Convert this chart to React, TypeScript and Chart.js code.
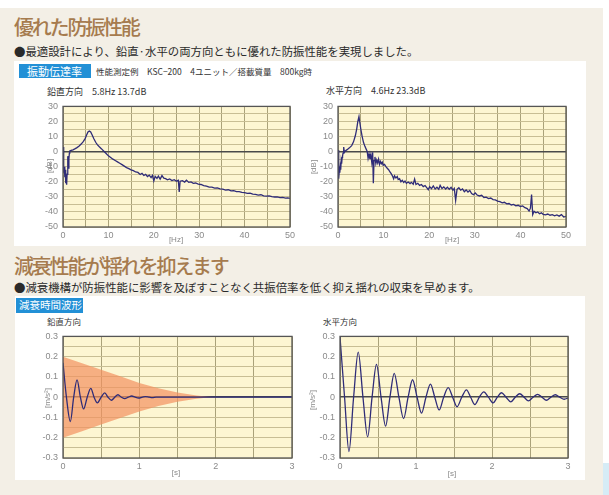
import React, { useEffect, useRef } from 'react';
import { Chart, registerables } from 'chart.js';
Chart.register(...registerables);

// ---------- data ----------
const vertFreq = [0.0,0.1,0.2,0.3,0.4,0.5,0.6,0.7,0.8,0.9,1.0,1.1,1.2,1.3,1.4,1.5,1.8,2.2,2.6,3.0,3.5,4.0,4.5,4.9,5.2,5.5,5.8,6.1,6.4,6.8,7.2,7.6,8.0,8.5,9.0,9.5,10.0,10.5,11.0,11.5,12.0,12.5,13.0,13.5,14.0,14.5,15.0,15.5,16.0,16.5,17.0,17.4,17.8,18.2,18.6,19.0,19.4,19.7,20.0,20.3,20.7,21.0,21.4,21.8,22.2,22.6,23.0,23.5,24.0,24.5,25.0,25.4,25.6,25.8,26.3,26.8,27.2,27.7,28.2,28.7,29.2,29.8,30.4,31.0,31.6,32.2,32.8,33.4,34.0,34.6,35.2,35.8,36.4,37.0,37.6,38.2,38.8,39.4,40.0,40.6,41.2,41.8,42.4,43.0,43.6,44.2,44.8,45.4,46.0,46.6,47.2,47.8,48.4,49.0,49.5,50.0];
const vertDb = [3,-8,-14,-10,-17,-12,-21,-18,-22,-15,-6,-3,-11,-5,-1,0.5,0.8,1.2,1.8,2.5,3.6,5.0,6.8,8.8,11,13,13.7,13,11.2,8.5,6.2,4.5,3.2,1.8,0.3,-1.2,-2.8,-3.9,-5,-5.9,-6.8,-7.7,-8.6,-9.6,-10.6,-11.3,-12.1,-12.6,-13.5,-13.8,-15.2,-14.4,-15.8,-15.1,-16.5,-15.6,-17.2,-15.8,-19.5,-16.4,-17.8,-16.2,-18.2,-15.9,-17.6,-17.9,-18.7,-18.1,-19.2,-18.6,-19.6,-19.0,-26.8,-19.6,-19.3,-20.2,-19.0,-20.4,-20.1,-21.0,-20.8,-21.6,-21.8,-22.5,-22.9,-23.6,-23.5,-24.2,-24.1,-24.7,-24.9,-25.5,-25.3,-26.0,-25.9,-26.5,-26.6,-27.0,-27.2,-27.7,-27.6,-28.2,-28.3,-28.9,-28.6,-29.3,-29.5,-29.4,-29.9,-30.1,-30.0,-30.5,-30.4,-30.9,-30.7,-31.0];

const horFreq = [0.0,0.1,0.2,0.3,0.4,0.5,0.6,0.7,0.8,0.9,1.0,1.1,1.25,1.4,1.6,2.0,2.5,3.0,3.4,3.8,4.1,4.35,4.6,4.8,5.0,5.3,5.6,5.9,6.2,6.4,6.6,6.8,7.0,7.2,7.4,7.6,7.75,7.9,8.1,8.3,8.5,8.7,8.9,9.1,9.3,9.5,9.7,9.9,10.2,10.5,10.8,11.1,11.4,11.7,12.0,12.2,12.4,12.7,13.0,13.2,13.5,13.8,14.1,14.4,14.7,15.0,15.4,15.8,16.1,16.5,16.8,17.1,17.5,17.9,18.3,18.7,19.1,19.5,19.8,20.1,20.5,20.9,21.3,21.7,22.1,22.4,22.8,23.2,23.6,24.0,24.4,24.8,25.2,25.5,25.8,26.1,26.5,26.9,27.3,27.7,28.1,28.5,28.9,29.3,29.7,30.1,30.5,31.0,31.5,32.0,32.5,33.0,33.5,34.0,34.5,35.0,35.5,36.0,36.5,37.0,37.5,38.0,38.5,39.0,39.5,40.0,40.5,41.0,41.5,41.9,42.2,42.45,42.7,43.0,43.4,43.8,44.2,44.6,45.0,45.5,46.0,46.5,47.0,47.5,48.0,48.5,49.0,49.5,50.0];
const horDb = [1,-10,-18,-12,-14,-10,-12,-6,-8,-4,-3,-1,3,-0.5,0.5,1.3,2.5,4.0,6.5,10.5,15,20,23.3,19,15,10,6,3.5,1.5,0.2,-4.5,-1.5,-5,-2,-7,-0.5,-21,-6,-3.5,-8,-5.5,-7.5,-5,-8.5,-6.5,-8,-7,-9,-8.5,-10,-11,-12,-13.5,-14.8,-16.5,-18,-16,-17.5,-16.5,-18.5,-18,-20,-19,-20.5,-19.5,-21,-20.2,-21.2,-20.4,-21.6,-18.2,-21.8,-21,-22.4,-21.8,-23.2,-22.5,-24,-25.2,-23.2,-24.6,-22.8,-24.8,-23.6,-24.9,-22.4,-24.5,-23.4,-24.8,-23.6,-25,-23.7,-25.6,-24.4,-32.4,-25,-24,-25.6,-24.8,-26.6,-25.4,-26.8,-25.8,-27.8,-28.6,-27.4,-28.8,-29.4,-29.0,-30.4,-30.2,-31.2,-30.8,-31.8,-32.0,-32.8,-33.2,-34.0,-33.6,-34.6,-34.4,-35.4,-35.0,-36.0,-35.6,-36.4,-36.0,-37.2,-37.8,-39.4,-37.5,-28.5,-41.8,-39.6,-40.6,-40.0,-41.2,-40.6,-41.6,-42.0,-41.4,-42.2,-41.8,-42.6,-42.0,-42.8,-41.8,-43.4,-43.0];

const vertTime = [0,0.045,0.096,0.14,0.184,0.228,0.27,0.317,0.364,0.407,0.45,0.5,0.547,0.59,0.635,0.678,0.72,0.765,0.81,0.855,0.9,0.945,0.99,1.04,1.08,1.13,1.17,1.22,3.0];
const vertAcc = [0.17,0,-0.12,0,0.085,0,-0.058,0,0.044,0,-0.028,0,0.021,0,-0.015,0,0.012,0,-0.007,0,0.006,0,-0.004,0,0.003,0,-0.002,0,0];

const envTime = [0,0.25,0.5,0.75,1.0,1.25,1.5,1.75,1.9,2.0];
const envUpper = [0.2,0.168,0.135,0.103,0.07,0.044,0.023,0.008,0.002,0];
const envLower = [-0.2,-0.168,-0.135,-0.103,-0.07,-0.044,-0.023,-0.008,-0.002,0];

const horTime = [0,0.06,0.118,0.179,0.24,0.302,0.364,0.422,0.48,0.54,0.6,0.657,0.714,0.775,0.837,0.896,0.955,1.014,1.073,1.131,1.19,1.247,1.305,1.364,1.424,1.482,1.54,1.602,1.664,1.719,1.774,1.833,1.892,1.953,2.015,2.07,2.124,2.185,2.247,2.306,2.365,2.422,2.48,2.54,2.6,2.658,2.716,2.775,2.834,2.892,2.95,3.0];
const horAcc = [0.297,0,-0.268,0,0.222,0,-0.196,0,0.162,0,-0.143,0,0.118,0,-0.106,0,0.086,0,-0.079,0,0.065,0,-0.063,0,0.047,0,-0.047,0,0.036,0,-0.036,0,0.026,0,-0.028,0,0.022,0,-0.023,0,0.017,0,-0.018,0,0.014,0,-0.015,0,0.012,0,-0.01,-0.004];

const freqLabels = [0, 10, 20, 30, 40, 50];
const dbLabels = [30, 20, 10, 0, -10, -20, -30, -40, -50];
const timeLabels = [0, 1, 2, 3];
const accLabels = [0.3, 0.2, 0.1, 0, -0.1, -0.2, -0.3];

// ---------- styles ----------
const BEIGE = '#f3efe6';
const BROWN = '#a67b4e';
const BLUE = '#2290d6';
const PLOT_BG = '#fdf6d2';
const VGRID = '#aaa27a';
const HGRID = '#c8be94';
const FRAME = '#555555';
const LINE = '#2f2c78';
const TICK = '#8a8a8a';
const JP = '"Noto Sans CJK JP", "Noto Sans", sans-serif';

const zip = (xs: number[], ys: number[]) => xs.map((x, i) => ({ x, y: ys[i] }));

const framePlugin = {
  id: 'frame',
  beforeDraw(chart: any) {
    const { ctx, chartArea: a } = chart;
    ctx.save();
    ctx.fillStyle = PLOT_BG;
    ctx.fillRect(a.left, a.top, a.right - a.left, a.bottom - a.top);
    ctx.restore();
  },
  afterDraw(chart: any) {
    const { ctx, chartArea: a } = chart;
    ctx.save();
    ctx.strokeStyle = FRAME;
    ctx.lineWidth = 1.3;
    ctx.strokeRect(a.left, a.top, a.right - a.left, a.bottom - a.top);
    ctx.restore();
  },
};

type AxisSpec = {
  xMin: number; xMax: number; xStep: number; xLabels: number[];
  yMin: number; yMax: number; yStep: number; yLabels: number[];
  yFmt: (v: number) => string;
  padTop: number; padRight: number; yWidth: number; xHeight: number;
};

const near = (v: number, list: number[]) => list.some((l) => Math.abs(l - v) < 1e-6);

function makeOptions(p: AxisSpec): any {
  const tickFont = { family: '"Liberation Sans", Arial, sans-serif', size: 9 };
  return {
    responsive: false,
    animation: false,
    layout: { padding: { left: 0, right: p.padRight, top: p.padTop, bottom: 0 } },
    plugins: { legend: { display: false }, tooltip: { enabled: false }, title: { display: false } },
    elements: { point: { radius: 0 } },
    scales: {
      x: {
        type: 'linear',
        min: p.xMin,
        max: p.xMax,
        afterFit: (s: any) => { s.height = p.xHeight; },
        ticks: {
          stepSize: p.xStep,
          autoSkip: false,
          maxRotation: 0,
          padding: 3,
          color: TICK,
          font: tickFont,
          callback: (v: number) => (near(v, p.xLabels) ? String(Math.round(v)) : ''),
        },
        grid: { color: VGRID, lineWidth: 1, drawTicks: false },
        border: { display: false },
      },
      y: {
        type: 'linear',
        min: p.yMin,
        max: p.yMax,
        afterFit: (s: any) => { s.width = p.yWidth; },
        ticks: {
          stepSize: p.yStep,
          autoSkip: false,
          padding: 5,
          color: TICK,
          font: tickFont,
          callback: (v: number) => (near(v, p.yLabels) ? p.yFmt(v) : ''),
        },
        grid: {
          drawTicks: false,
          color: (c: any) => (c.tick && Math.abs(c.tick.value) < 1e-9 ? '#4a4a4a' : HGRID),
          lineWidth: (c: any) => (c.tick && Math.abs(c.tick.value) < 1e-9 ? 1.6 : 1),
        },
        border: { display: false },
      },
    },
  };
}

function ChartCanvas(props: { left: number; top: number; width: number; height: number; build: () => any }) {
  const ref = useRef<HTMLCanvasElement>(null);
  useEffect(() => {
    const chart = new Chart(ref.current as HTMLCanvasElement, props.build());
    return () => chart.destroy();
  }, []);
  return (
    <canvas
      ref={ref}
      width={props.width}
      height={props.height}
      style={{ position: 'absolute', left: props.left, top: props.top, width: props.width, height: props.height }}
    />
  );
}

const lineDs = (data: { x: number; y: number }[], smooth: boolean) => ({
  data,
  borderColor: LINE,
  borderWidth: 1.3,
  pointRadius: 0,
  fill: false,
  tension: smooth ? 0.4 : 0,
  cubicInterpolationMode: smooth ? 'monotone' : 'default',
});

const freqAxes = (padTop: number): AxisSpec => ({
  xMin: 0, xMax: 50, xStep: 5, xLabels: freqLabels,
  yMin: -50, yMax: 30, yStep: 5, yLabels: dbLabels,
  yFmt: (v) => String(Math.round(v)),
  padTop, padRight: 10, yWidth: 33, xHeight: 19,
});

const timeAxes = (): AxisSpec => ({
  xMin: 0, xMax: 3, xStep: 0.5, xLabels: timeLabels,
  yMin: -0.3, yMax: 0.3, yStep: 0.05, yLabels: accLabels,
  yFmt: (v) => (Math.abs(v) < 1e-9 ? '0' : v.toFixed(1)),
  padTop: 7, padRight: 10, yWidth: 33, xHeight: 18,
});

const buildFreq = (fx: number[], fy: number[], padTop: number) => () => ({
  type: 'line',
  data: { datasets: [lineDs(zip(fx, fy), false)] },
  options: makeOptions(freqAxes(padTop)),
  plugins: [framePlugin],
});

const buildVertTime = () => ({
  type: 'line',
  data: {
    datasets: [
      lineDs(zip(vertTime, vertAcc), true),
      {
        data: zip(envTime, envUpper),
        borderWidth: 0,
        borderColor: 'rgba(0,0,0,0)',
        backgroundColor: 'rgba(242,145,95,0.7)',
        pointRadius: 0,
        fill: '+1',
        tension: 0,
      },
      {
        data: zip(envTime, envLower),
        borderWidth: 0,
        borderColor: 'rgba(0,0,0,0)',
        pointRadius: 0,
        fill: false,
        tension: 0,
      },
    ],
  },
  options: makeOptions(timeAxes()),
  plugins: [framePlugin],
});

const buildHorTime = () => ({
  type: 'line',
  data: { datasets: [lineDs(zip(horTime, horAcc), true)] },
  options: makeOptions(timeAxes()),
  plugins: [framePlugin],
});

const abs = (s: React.CSSProperties): React.CSSProperties => ({ position: 'absolute', whiteSpace: 'nowrap', lineHeight: 1, ...s });

function Txt(p: { x: number; y: number; size: number; color?: string; children: React.ReactNode; ls?: number; weight?: number }) {
  return (
    <div
      style={abs({
        left: p.x,
        top: p.y,
        fontSize: p.size,
        color: p.color || '#333',
        fontFamily: JP,
        letterSpacing: p.ls ? p.ls : undefined,
        fontWeight: p.weight || 400,
      })}
    >
      {p.children}
    </div>
  );
}

function AxisTitle(p: { cx: number; cy: number; rotate?: boolean; children: React.ReactNode }) {
  return (
    <div
      style={abs({
        left: p.cx,
        top: p.cy,
        fontSize: 8,
        color: TICK,
        fontFamily: '"Liberation Sans", Arial, sans-serif',
        transform: `translate(-50%, -50%)${p.rotate ? ' rotate(-90deg)' : ''}`,
      })}
    >
      {p.children}
    </div>
  );
}

export default function App() {
  return (
    <div style={{ position: 'absolute', left: 0, top: 0, width: 609, height: 495, background: '#ffffff', overflow: 'hidden' }}>
      <div style={abs({ left: 0, top: 8, width: 603, height: 487, background: BEIGE })} />
      <div style={abs({ left: 603, top: 463, width: 6, height: 32, background: '#d6ecf6' })} />
      <div style={abs({ left: 14, top: 61, width: 572, height: 185, background: '#ffffff' })} />
      <div style={abs({ left: 15, top: 296, width: 570, height: 184, background: '#ffffff' })} />

      <Txt x={14} y={17} size={20} color={BROWN} ls={-2.2} weight={500}>優れた防振性能</Txt>
      <Txt x={14} y={45.5} size={11.4} color="#2a2a2a">●最適設計により、鉛直·水平の両方向ともに優れた防振性能を実現しました。</Txt>
      <div style={abs({ left: 19, top: 64, width: 72, height: 14, background: BLUE })} />
      <Txt x={27} y={65.5} size={11} color="#ffffff">振動伝達率</Txt>
      <Txt x={96} y={67} size={8.5} color="#333">性能測定例　KSC−200　4ユニット／搭載質量　800kg時</Txt>

      <Txt x={47} y={87} size={9} color="#333">鉛直方向　5.8Hz 13.7dB</Txt>
      <Txt x={326} y={86} size={9} color="#333">水平方向　4.6Hz 23.3dB</Txt>

      <ChartCanvas left={30} top={96} width={270} height={150} build={buildFreq(vertFreq, vertDb, 7)} />
      <ChartCanvas left={305} top={96} width={271} height={150} build={buildFreq(horFreq, horDb, 6)} />
      <AxisTitle cx={176} cy={240}>[Hz]</AxisTitle>
      <AxisTitle cx={50} cy={166} rotate>[dB]</AxisTitle>
      <AxisTitle cx={452} cy={240}>[Hz]</AxisTitle>
      <AxisTitle cx={314} cy={167} rotate>[dB]</AxisTitle>

      <Txt x={14} y={256} size={20} color={BROWN} ls={-2.2} weight={500}>減衰性能が揺れを抑えます</Txt>
      <Txt x={14} y={281.5} size={11.4} color="#2a2a2a">●減衰機構が防振性能に影響を及ぼすことなく共振倍率を低く抑え揺れの収束を早めます。</Txt>
      <div style={abs({ left: 16, top: 298, width: 67, height: 15, background: BLUE })} />
      <Txt x={19} y={300} size={10.5} color="#ffffff">減衰時間波形</Txt>

      <Txt x={47} y={317} size={8.5} color="#333">鉛直方向</Txt>
      <Txt x={323} y={317} size={8.5} color="#333">水平方向</Txt>

      <ChartCanvas left={30} top={326} width={272} height={150} build={buildVertTime} />
      <ChartCanvas left={307} top={326} width={271} height={150} build={buildHorTime} />
      <AxisTitle cx={176} cy={473}>[s]</AxisTitle>
      <AxisTitle cx={48} cy={398} rotate>[m/s²]</AxisTitle>
      <AxisTitle cx={452} cy={474}>[s]</AxisTitle>
      <AxisTitle cx={313} cy={400} rotate>[m/s²]</AxisTitle>
    </div>
  );
}
